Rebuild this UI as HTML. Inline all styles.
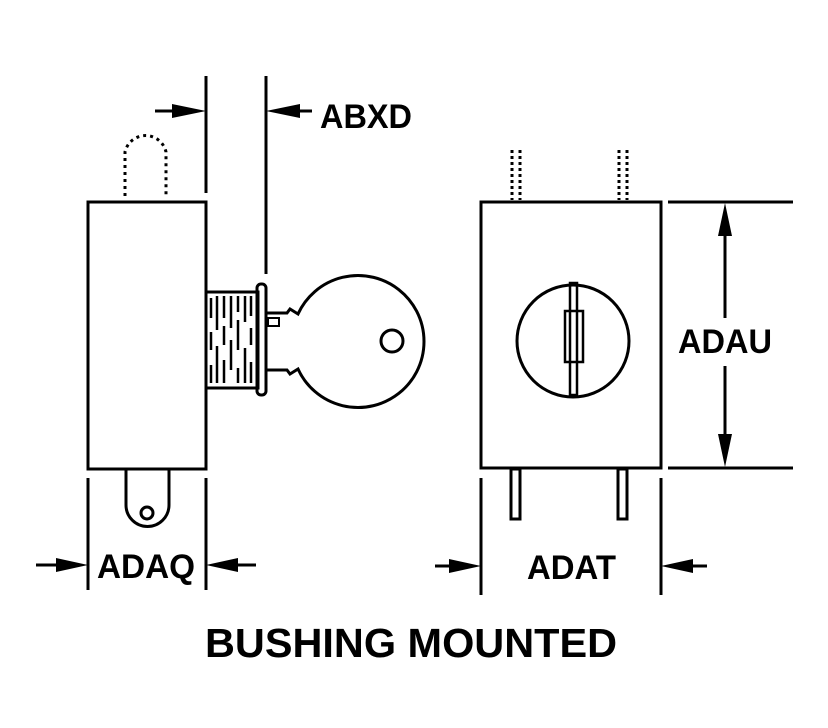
<!DOCTYPE html>
<html><head><style>body{margin:0;background:#fff}svg{display:block}</style></head><body>
<svg width="828" height="728" viewBox="0 0 828 728" xmlns="http://www.w3.org/2000/svg">
<g fill="none" stroke="#000" stroke-width="3">
<rect x="88" y="202" width="118" height="267"/>
<line x1="206" y1="76" x2="206" y2="193"/>
<line x1="266" y1="76" x2="266" y2="274"/>
<line x1="155" y1="111" x2="190" y2="111"/>
<line x1="282" y1="111" x2="312" y2="111"/>
<path d="M125 196 V152 A21 21 0 0 1 166 152 V196" stroke-dasharray="3 4"/>
<rect x="206" y="292" width="52" height="96"/>
<rect x="257" y="284" width="9" height="111" rx="4"/>
<path d="M266 313 H287 L290 309 L298 314 A66 66 0 1 1 298 369 L290 374 L287 370 H266"/>
<rect x="268" y="318" width="11" height="8" stroke-width="2"/>
<circle cx="392" cy="341" r="11"/>
<g stroke-width="2.5">
<line x1="211" y1="298" x2="211" y2="318"/><line x1="217" y1="296" x2="217" y2="330"/><line x1="224" y1="296" x2="224" y2="318"/><line x1="231" y1="296" x2="231" y2="328"/><line x1="238" y1="296" x2="238" y2="312"/><line x1="245" y1="296" x2="245" y2="322"/><line x1="251" y1="296" x2="251" y2="316"/>
<line x1="211" y1="332" x2="211" y2="350"/><line x1="224" y1="326" x2="224" y2="345"/><line x1="238" y1="320" x2="238" y2="350"/><line x1="251" y1="328" x2="251" y2="345"/>
<line x1="217" y1="346" x2="217" y2="383"/><line x1="231" y1="340" x2="231" y2="370"/><line x1="245" y1="348" x2="245" y2="383"/>
<line x1="211" y1="365" x2="211" y2="383"/><line x1="224" y1="360" x2="224" y2="383"/><line x1="238" y1="368" x2="238" y2="383"/><line x1="251" y1="362" x2="251" y2="383"/>
</g>
<path d="M126 469 V505 A21.5 21.5 0 0 0 169 505 V469"/>
<circle cx="147" cy="513" r="6"/>
<line x1="88" y1="478" x2="88" y2="590"/>
<line x1="206" y1="478" x2="206" y2="590"/>
<line x1="36" y1="565" x2="72" y2="565"/>
<line x1="222" y1="565" x2="256" y2="565"/>
<rect x="481" y="202" width="180" height="266"/>
<circle cx="573" cy="341" r="56"/>
<rect x="570" y="283" width="7" height="112" stroke-width="2.5"/>
<rect x="565" y="311" width="18" height="51" stroke-width="2.5"/>
<g stroke-dasharray="3 3"><line x1="512" y1="150" x2="512" y2="200"/><line x1="520" y1="150" x2="520" y2="200"/><line x1="619" y1="150" x2="619" y2="200"/><line x1="627" y1="150" x2="627" y2="200"/></g>
<rect x="511" y="469" width="9" height="50"/>
<rect x="618" y="469" width="9" height="50"/>
<line x1="481" y1="478" x2="481" y2="595"/>
<line x1="661" y1="478" x2="661" y2="595"/>
<line x1="435" y1="566" x2="466" y2="566"/>
<line x1="676" y1="566" x2="707" y2="566"/>
<line x1="668" y1="202" x2="793" y2="202"/>
<line x1="668" y1="468" x2="793" y2="468"/>
<line x1="725" y1="215" x2="725" y2="318"/>
<line x1="725" y1="366" x2="725" y2="455"/>
</g>
<g fill="#000">
<polygon points="206,111 172,104 172,118"/>
<polygon points="266,111 300,104 300,118"/>
<polygon points="88,565 56,558 56,572"/>
<polygon points="206,565 238,558 238,572"/>
<polygon points="481,566 449,559 449,573"/>
<polygon points="661,566 693,559 693,573"/>
<polygon points="725,203 718,236 732,236"/>
<polygon points="725,467 718,434 732,434"/>
</g>
<g font-family="Liberation Sans, sans-serif" font-weight="bold" font-size="34" fill="#000">
<text x="320" y="128" textLength="92" lengthAdjust="spacingAndGlyphs">ABXD</text>
<text x="97" y="578" textLength="98" lengthAdjust="spacingAndGlyphs">ADAQ</text>
<text x="527" y="579" textLength="89" lengthAdjust="spacingAndGlyphs">ADAT</text>
<text x="678" y="353" textLength="94" lengthAdjust="spacingAndGlyphs">ADAU</text>
<text x="205" y="657" font-size="41" textLength="412" lengthAdjust="spacingAndGlyphs">BUSHING MOUNTED</text>
</g>
</svg>
</body></html>
